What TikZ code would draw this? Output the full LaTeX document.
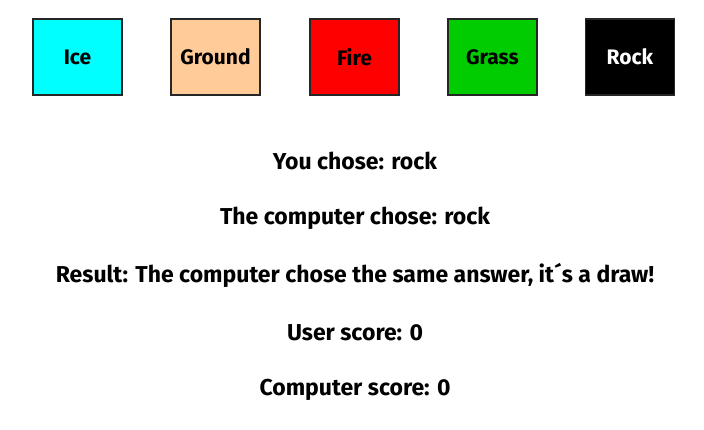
\documentclass[tikz,border=0pt]{standalone}
\usepackage{fontspec}
\setmainfont{Fira Sans}[UprightFont=* Bold]
\begin{document}
\begin{tikzpicture}[x=1pt,y=-1pt,
  tile/.style={draw=black!85,line width=1.6pt,minimum width=89pt,minimum height=76pt,inner sep=0pt,font=\fontsize{21}{24}\selectfont},
  info/.style={inner sep=0pt,font=\fontsize{23}{27}\selectfont}]
\useasboundingbox (0,0) rectangle (704,429);
\definecolor{icec}{HTML}{00FFFF}
\definecolor{groundc}{HTML}{FFCC99}
\definecolor{firec}{HTML}{FF0000}
\definecolor{grassc}{HTML}{00CC00}
\node[tile,fill=icec] (ice) at (77.5,57) {Ice};
\node[tile,fill=groundc] (ground) at (215.5,57) {Ground};
\node[tile,fill=firec] (fire) at (354.5,57) {Fire};
\node[tile,fill=grassc] (grass) at (492.5,57) {Grass};
\node[tile,fill=black,text=white] (rock) at (630,57) {Rock};
\node[info] (you) at (355,161) {You chose: rock};
\node[info] (comp) at (355,218) {The computer chose: rock};
\node[info] (res) at (355,275) {Result: The computer chose the same answer, it´s a draw!};
\node[info] (us) at (355,333) {User score: 0};
\node[info] (cs) at (355,390) {Computer score: 0};
\end{tikzpicture}
\end{document}
